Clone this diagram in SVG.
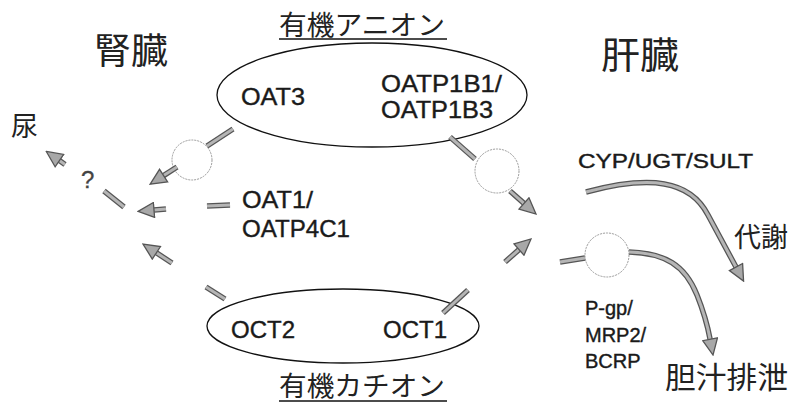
<svg xmlns="http://www.w3.org/2000/svg" width="795" height="404" viewBox="0 0 795 404">
<style>
.jp{font-family:"Noto Sans CJK JP","Noto Sans CJK SC",sans-serif;fill:#222}
.en{font-family:"Liberation Sans",Arial,sans-serif;fill:#1a1a1a;stroke:#1a1a1a;stroke-width:0.4}
.ell{fill:none;stroke:#111;stroke-width:1.3}
.tc{fill:#fff;stroke:#999;stroke-width:1;stroke-dasharray:2 1}
.o{fill:none;stroke:#555;stroke-width:5.5;stroke-linecap:butt}
.i{fill:none;stroke:#b5b5b5;stroke-width:3;stroke-linecap:butt}
.ul{stroke:#111;stroke-width:1.3}
</style>
<defs>
<marker id="ah" markerUnits="userSpaceOnUse" markerWidth="18" markerHeight="17" viewBox="0 0 18 17" refX="1" refY="8.5" orient="auto">
<path d="M1,1 L17,8.5 L1,16 z" fill="#a8a8a8" stroke="#555" stroke-width="1.3" stroke-linejoin="miter"/>
</marker>
</defs>
<rect width="795" height="404" fill="#fff"/>

<g id="title-anion">
<text class="jp" x="279" y="35" font-size="27" textLength="166" lengthAdjust="spacingAndGlyphs">有機アニオン</text>
<line class="ul" x1="279" y1="39" x2="447" y2="39"/>
</g>
<g id="title-cation">
<text class="jp" x="279" y="396" font-size="27" textLength="166" lengthAdjust="spacingAndGlyphs">有機カチオン</text>
<line class="ul" x1="279" y1="401" x2="447" y2="401"/>
</g>
<g id="kidney"><text class="jp" x="94" y="64" font-size="36" textLength="74" lengthAdjust="spacingAndGlyphs">腎臓</text></g>
<g id="liver"><text class="jp" x="601" y="69" font-size="37" textLength="78" lengthAdjust="spacingAndGlyphs">肝臓</text></g>
<g id="urine"><text class="jp" x="11" y="136" font-size="27">尿</text></g>
<g id="metabolism"><text class="jp" x="734" y="247" font-size="27" textLength="54" lengthAdjust="spacingAndGlyphs">代謝</text></g>
<g id="bile"><text class="jp" x="665" y="388" font-size="30" textLength="123" lengthAdjust="spacingAndGlyphs">胆汁排泄</text></g>

<g id="anion-node">
<ellipse class="ell" cx="372" cy="95" rx="155" ry="52"/>
<text class="en" x="241" y="105" font-size="24" textLength="64" lengthAdjust="spacingAndGlyphs">OAT3</text>
<text class="en" x="381" y="92" font-size="24" textLength="121" lengthAdjust="spacingAndGlyphs">OATP1B1/</text>
<text class="en" x="381" y="118" font-size="24" textLength="112" lengthAdjust="spacingAndGlyphs">OATP1B3</text>
</g>
<g id="cation-node">
<ellipse class="ell" cx="343" cy="326" rx="136" ry="37"/>
<text class="en" x="231" y="338" font-size="24" textLength="64" lengthAdjust="spacingAndGlyphs">OCT2</text>
<text class="en" x="383" y="338" font-size="24" textLength="64" lengthAdjust="spacingAndGlyphs">OCT1</text>
</g>
<g id="oat1-label">
<text class="en" x="242" y="208" font-size="24" textLength="71" lengthAdjust="spacingAndGlyphs">OAT1/</text>
<text class="en" x="242" y="237" font-size="24" textLength="108" lengthAdjust="spacingAndGlyphs">OATP4C1</text>
</g>
<g id="cyp-label"><text class="en" x="578" y="168" font-size="20" textLength="175" lengthAdjust="spacingAndGlyphs">CYP/UGT/SULT</text></g>
<g id="efflux-label">
<text class="en" x="585" y="315" font-size="20">P-gp/</text>
<text class="en" x="585" y="342" font-size="20">MRP2/</text>
<text class="en" x="585" y="368" font-size="20">BCRP</text>
</g>
<g id="question"><text class="en" x="81" y="188" font-size="24" style="fill:#444;stroke:#444;stroke-width:0.3">?</text></g>

<g id="transporter-kidney"><circle class="tc" cx="192" cy="160" r="20"/></g>
<g id="transporter-liver-in"><circle class="tc" cx="497" cy="171" r="22"/></g>
<g id="transporter-liver-out"><circle class="tc" cx="607" cy="255" r="22"/></g>

<g id="connectors">
<path class="o" d="M233,129 L207,146"/><path class="i" d="M233,129 L207,146"/>
<path class="o" d="M104,191 L124,207"/><path class="i" d="M104,191 L124,207"/>
<path class="o" d="M207,206 L230,205"/><path class="i" d="M207,206 L230,205"/>
<path class="o" d="M206,287 L225,299"/><path class="i" d="M206,287 L225,299"/>
<path class="o" d="M450,137 L475,159"/><path class="i" d="M450,137 L475,159"/>
<path class="o" d="M443,313 L468,290"/><path class="i" d="M443,313 L468,290"/>
<path class="o" d="M560,262 L585,258"/><path class="i" d="M560,262 L585,258"/>
<path class="o" d="M177,167 L163.6,175.6"/><path class="i" d="M177,167 L163.6,175.6" marker-end="url(#ah)"/>
<path class="o" d="M166,209 L154,210"/><path class="i" d="M166,209 L154,210" marker-end="url(#ah)"/>
<path class="o" d="M172,263 L156.4,252.8"/><path class="i" d="M172,263 L156.4,252.8" marker-end="url(#ah)"/>
<path class="o" d="M65,164.5 L59.4,160.6"/><path class="i" d="M65,164.5 L59.4,160.6" marker-end="url(#ah)"/>
<path class="o" d="M510,191 L524,203.4"/><path class="i" d="M510,191 L524,203.4" marker-end="url(#ah)"/>
<path class="o" d="M505,262 L519,249.6"/><path class="i" d="M505,262 L519,249.6" marker-end="url(#ah)"/>
<path class="o" d="M586,192 C650,175 690,180 708,215 C721,239 729,254 736,267"/><path class="i" d="M586,192 C650,175 690,180 708,215 C721,239 729,254 736,267" marker-end="url(#ah)"/>
<path class="o" d="M629,252 C665,253 685,265 697,295 C705,315 708,328 710.1,339.3"/><path class="i" d="M629,252 C665,253 685,265 697,295 C705,315 708,328 710.1,339.3" marker-end="url(#ah)"/>
</g>
</svg>
